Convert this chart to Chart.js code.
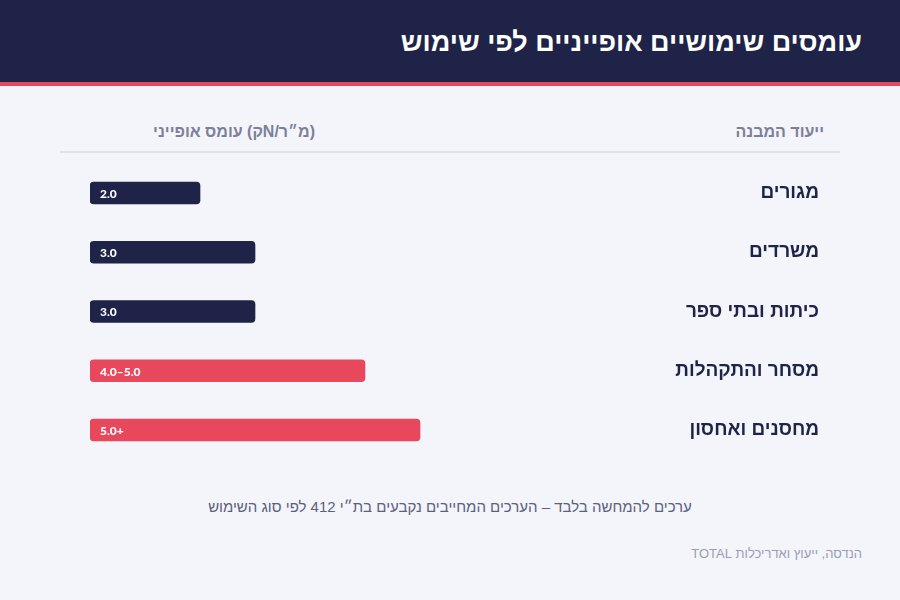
<!DOCTYPE html>
<html lang="he" dir="rtl">
<head>
<meta charset="utf-8">
<script src="https://cdn.jsdelivr.net/npm/chart.js@4"></script>
<style>
  html, body { margin: 0; padding: 0; }
  body {
    width: 900px; height: 600px; position: relative; overflow: hidden;
    background: #f4f5fb; font-family: "Liberation Sans", Arial, sans-serif;
  }
  .header {
    position: absolute; left: 0; top: 0; width: 900px; height: 82px;
    background: #1e2347; border-bottom: 4px solid #e8485c;
  }
  .header h1 {
    position: absolute; right: 38px; top: 24px; margin: 0;
    color: #fff; font-size: 27px; font-weight: bold; line-height: 36px;
  }
  .col { position: absolute; top: 123px; font-size: 16px; font-weight: bold; color: #7c8099; white-space: nowrap; }
  .col-cat { right: 76px; }
  .col-val { right: 585px; }
  .rule { position: absolute; left: 60px; top: 151px; width: 780px; height: 2px; background: #dfe0ea; }
  .chart-box { position: absolute; left: 0; top: 148.5px; width: 900px; height: 325px; }
  .note {
    position: absolute; left: 0; width: 900px; top: 498px; text-align: center;
    font-size: 15px; color: #5b607b;
  }
  .source { position: absolute; right: 38px; top: 546px; font-size: 13px; color: #9a9db3; }
</style>
</head>
<body>
<div class="header"><h1>עומסים שימושיים אופייניים לפי שימוש</h1></div>
<div class="col col-cat">ייעוד המבנה</div>
<div class="col col-val">(מ״ר/Nק) עומס אופייני</div>
<div class="rule"></div>
<div class="chart-box"><canvas id="loads"></canvas></div>
<div class="note">ערכים להמחשה בלבד – הערכים המחייבים נקבעים בת״י 412 לפי סוג השימוש</div>
<div class="source">הנדסה, ייעוץ ואדריכלות TOTAL</div>

<script>
const categories = ['מגורים', 'משרדים', 'כיתות ובתי ספר', 'מסחר והתקהלות', 'מחסנים ואחסון'];
const loadValues = [2, 3, 3, 5, 6];
const valueLabels = ['2.0', '3.0', '3.0', '4.0–5.0', '5.0+'];
const barColors = ['#1e2347', '#1e2347', '#1e2347', '#e8485c', '#e8485c'];

// draw the value text inside each bar, near its start
const insideLabels = {
    id: 'insideLabels',
    afterDatasetsDraw(chart) {
        const ctx = chart.ctx;
        const meta = chart.getDatasetMeta(0);
        ctx.save();
        ctx.direction = 'ltr';
        ctx.fillStyle = '#ffffff';
        ctx.font = '900 12px Lato, "Liberation Sans", sans-serif';
        ctx.textAlign = 'left';
        ctx.textBaseline = 'middle';
        meta.data.forEach((bar, i) => {
            const start = Math.min(bar.base, bar.x);
            ctx.fillText(valueLabels[i], start + 10, bar.y + 1);
        });
        ctx.restore();
    }
};

new Chart(document.getElementById('loads'), {
    type: 'bar',
    data: {
        labels: categories,
        datasets: [{
            data: loadValues,
            backgroundColor: barColors,
            borderRadius: 4,
            borderSkipped: false,
            barThickness: 22
        }]
    },
    options: {
        indexAxis: 'y',
        responsive: true,
        maintainAspectRatio: false,
        animation: false,
        layout: { padding: { left: 90, right: 81, top: 0, bottom: 0 } },
        plugins: { legend: { display: false }, tooltip: { enabled: false } },
        scales: {
            x: {
                min: 0, max: 8,
                display: false,
                grid: { display: false }
            },
            y: {
                position: 'right',
                grid: { display: false },
                border: { display: false },
                afterFit(scale) { scale.width = 289; },
                ticks: {
                    crossAlign: 'far',
                    color: '#1e2347',
                    font: { family: '"Liberation Sans", Arial, sans-serif', size: 19, weight: 'bold' }
                }
            }
        }
    },
    plugins: [insideLabels]
});
</script>
</body>
</html>
